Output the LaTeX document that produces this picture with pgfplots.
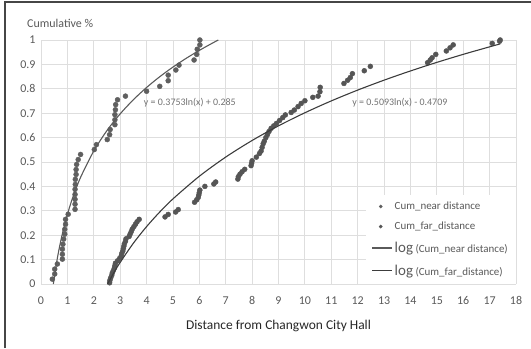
\documentclass[border=0pt]{standalone}
\usepackage{pgfplots}
\pgfplotsset{compat=1.18}
\usepackage{fontspec}
\setmainfont{Carlito}
\definecolor{txt}{RGB}{89,89,89}
\definecolor{gridc}{RGB}{222,222,222}
\definecolor{neardot}{RGB}{95,95,95}
\definecolor{fardot}{RGB}{85,85,85}
\definecolor{nearline}{RGB}{90,90,90}
\definecolor{farline}{RGB}{60,60,60}
\pgfplotsset{longline/.style={legend image code/.code={\draw[##1] (0bp,0bp) -- (20bp,0bp);}}}
\begin{document}
\begin{tikzpicture}[x=1bp,y=1bp]
\useasboundingbox (0,0) rectangle (531,348);
\draw[color={rgb,255:red,70;green,70;blue,70}, line width=1.3bp] (5,0) -- (5,346) -- (531,346);
\node[anchor=west, font=\fontsize{12}{12}\selectfont, text=txt, inner sep=0] at (27,325) {Cumulative \%};
\begin{axis}[
  at={(41bp,64bp)}, anchor=south west,
  scale only axis, width=475bp, height=244bp,
  xmin=0, xmax=18, ymin=0, ymax=1,
  xtick={0,1,...,18},
  ytick={0,0.1,0.2,0.3,0.4,0.5,0.6,0.7,0.8,0.9,1},
  yticklabels={0,0.1,0.2,0.3,0.4,0.5,0.6,0.7,0.8,0.9,1},
  grid=major, grid style={gridc, line width=0.8bp},
  axis line style={draw=none},
  tick style={draw=none},
  ticklabel style={font=\fontsize{12}{12}\selectfont, text=txt},
  /pgf/number format/assume math mode=true,
  xticklabel style={yshift=-9bp},
  yticklabel style={xshift=-2bp},
  xlabel={Distance from Changwon City Hall},
  xlabel style={font=\fontsize{13.5}{13.5}\selectfont, text=black!85, yshift=-9bp},
  clip mode=individual,
  legend style={at={(axis cs:18,0)}, anchor=south east, draw=none, fill=white,
    font=\fontsize{11}{11}\selectfont, text=txt, row sep=7bp, inner xsep=6bp, inner ysep=5bp},
  legend cell align=left,
]
\addplot[only marks, mark=*, mark size=2.5bp, color=neardot, legend image post style={mark size=1.6bp}] coordinates {
(0.43,0.020)(0.52,0.041)(0.52,0.061)(0.62,0.082)(0.81,0.102)(0.81,0.122)(0.81,0.143)
(0.83,0.163)(0.86,0.184)(0.90,0.204)(0.90,0.224)(0.93,0.245)(0.93,0.265)(1.03,0.286)
(1.29,0.306)(1.29,0.327)(1.29,0.347)(1.29,0.367)(1.29,0.388)(1.30,0.408)(1.30,0.429)
(1.33,0.449)(1.33,0.469)(1.35,0.490)(1.41,0.510)(1.50,0.531)(2.02,0.551)(2.10,0.571)
(2.51,0.592)(2.60,0.612)(2.62,0.633)(2.80,0.653)(2.80,0.673)(2.80,0.694)(2.82,0.714)
(2.83,0.735)(2.90,0.755)(3.20,0.770)(4.00,0.790)(4.50,0.810)(4.82,0.833)(4.82,0.856)
(5.11,0.877)(5.23,0.897)(5.80,0.918)(5.90,0.941)(5.92,0.962)(6.02,0.980)(6.02,1.000)
};
\addlegendentry{Cum\_near distance}
\addplot[only marks, mark=*, mark size=2.5bp, color=fardot, legend image post style={mark size=1.6bp}] coordinates {
(2.60,0.005)(2.61,0.015)(2.64,0.025)(2.68,0.035)(2.70,0.045)(2.74,0.055)(2.78,0.065)
(2.80,0.075)(2.82,0.085)(2.90,0.095)(2.98,0.105)(3.04,0.115)(3.06,0.125)(3.10,0.135)
(3.12,0.145)(3.14,0.155)(3.16,0.165)(3.20,0.175)(3.22,0.185)(3.34,0.195)(3.38,0.205)
(3.42,0.215)(3.46,0.225)(3.52,0.235)(3.58,0.245)(3.64,0.255)(3.72,0.265)(4.70,0.275)
(4.82,0.285)(5.10,0.295)(5.20,0.305)(5.82,0.335)(5.90,0.345)(5.96,0.355)(5.98,0.365)
(6.00,0.375)(6.02,0.385)(6.21,0.400)(6.55,0.410)(6.62,0.418)(7.46,0.430)(7.48,0.440)
(7.54,0.450)(7.62,0.460)(7.72,0.470)(7.96,0.485)(7.98,0.495)(8.00,0.505)(8.16,0.520)
(8.28,0.535)(8.34,0.545)(8.38,0.560)(8.42,0.575)(8.46,0.585)(8.52,0.600)(8.58,0.612)
(8.64,0.625)(8.72,0.638)(8.82,0.648)(8.92,0.658)(9.04,0.670)(9.16,0.682)(9.26,0.693)
(9.48,0.703)(9.60,0.713)(9.74,0.727)(9.86,0.740)(10.00,0.751)(10.30,0.765)(10.50,0.770)
(10.57,0.788)(10.58,0.806)(11.48,0.822)(11.62,0.835)(11.72,0.846)(11.80,0.862)
(12.25,0.874)(12.48,0.892)(14.65,0.907)(14.75,0.918)(14.82,0.927)(14.96,0.941)
(15.36,0.955)(15.50,0.968)(15.62,0.980)(17.10,0.986)(17.38,0.995)(17.40,1.000)
};
\addlegendentry{Cum\_far\_distance}
\addplot[smooth, no marks, color=nearline, line width=1.1bp, longline] coordinates {
(0.468,0.0)(0.6,0.0933)(0.7,0.1511)(0.8,0.2013)(0.9,0.2455)(1.0,0.285)(1.1,0.3208)
(1.25,0.3687)(1.5,0.4372)(2,0.5451)(2.5,0.6289)(3,0.6973)(3.5,0.7552)(4,0.8053)
(4.5,0.8495)(5,0.8890)(5.5,0.9248)(6,0.9574)(6.5,0.9875)(6.72,1.0)
};
\addlegendentry{{\fontsize{15}{15}\selectfont log} (Cum\_near distance)}
\addplot[smooth, no marks, color=farline, line width=1.1bp, longline] coordinates {
(2.521,0.0)(2.75,0.0443)(3,0.0886)(3.5,0.1671)(4,0.2351)(4.5,0.2951)(5,0.3488)
(6,0.4416)(7,0.5202)(8,0.5882)(9,0.6482)(10,0.7018)(11,0.7504)(12,0.7947)
(13,0.8354)(14,0.8732)(15,0.9083)(16,0.9412)(17,0.9720)(17.4,0.9839)
};
\addlegendentry{{\fontsize{15}{15}\selectfont log} (Cum\_far\_distance)}
\node[font=\fontsize{10}{10}\selectfont, text=txt!85] at (axis cs:5.64,0.742) {y = 0.3753ln(x) + 0.285};
\node[font=\fontsize{10}{10}\selectfont, text=txt!85] at (axis cs:13.6,0.742) {y = 0.5093ln(x) - 0.4709};
\end{axis}
\end{tikzpicture}
\end{document}
